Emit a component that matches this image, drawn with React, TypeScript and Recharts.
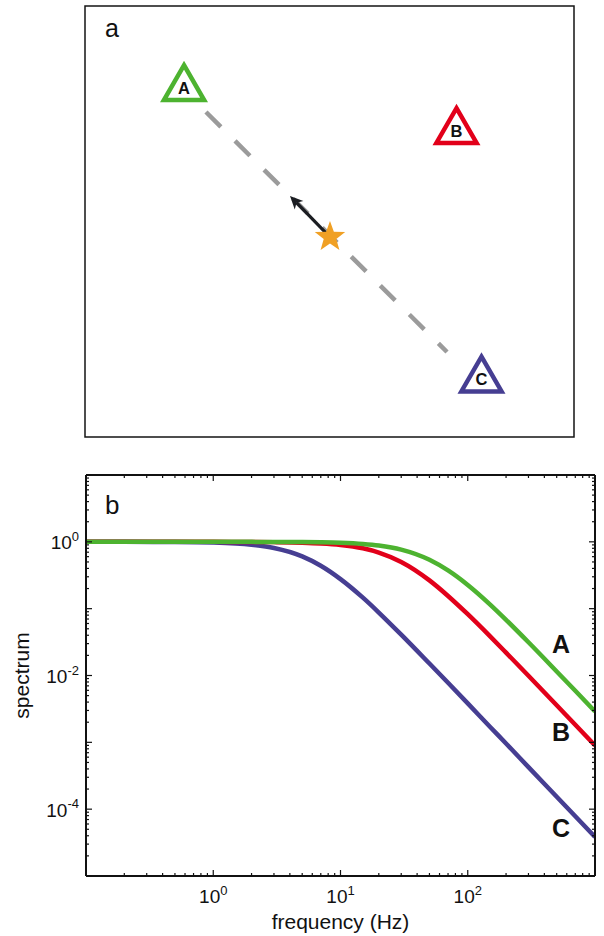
import React from 'react';
import {
  ScatterChart,
  Scatter,
  LineChart,
  Line,
  XAxis,
  YAxis,
  ReferenceArea,
  ReferenceDot,
} from 'recharts';

// ---------------- panel b : spectra ----------------
const FREQ = [0.1, 0.2, 0.5, 1, 2, 3, 5, 7, 10, 15, 20, 30, 50, 70, 100, 150, 200, 300, 500, 700, 1000];
const SPEC_A = [1, 1, 1, 1, 0.9986, 0.997, 0.9915, 0.9835, 0.967, 0.928, 0.879, 0.764, 0.538, 0.373, 0.226, 0.115, 0.068, 0.0314, 0.0115, 0.0059, 0.0029];
const SPEC_B = [1, 1, 1, 0.999, 0.9956, 0.99, 0.973, 0.948, 0.9, 0.8, 0.692, 0.5, 0.265, 0.155, 0.0826, 0.0385, 0.022, 0.0099, 0.00359, 0.00183, 0.0009];
const SPEC_C = [1, 0.999, 0.9935, 0.975, 0.906, 0.81, 0.606, 0.439, 0.277, 0.146, 0.0876, 0.0409, 0.0151, 0.00778, 0.00383, 0.0017, 0.00096, 0.000426, 0.0001536, 0.0000784, 0.0000384];

const X_DECADES = [0.1, 1, 10, 100, 1000];
const X_LABELED = [1, 10, 100];
const X_LABEL_EXP = ['0', '1', '2'];
const Y_DECADES = [0.00001, 0.0001, 0.001, 0.01, 0.1, 1, 10];
const Y_LABELED = [1, 0.01, 0.0001];
const Y_LABEL_EXP = ['0', '-2', '-4'];
const MINOR_MULTS = [2, 3, 4, 5, 6, 7, 8, 9];

const CURVE_NAMES = ['A', 'B', 'C'];
const CURVE_LABEL_F = [540, 540, 540];
const CURVE_LABEL_S = [0.0296, 0.00138, 0.0000522];

// ---------------- panel a : map ----------------
const SITE_NAMES = ['A', 'B', 'C'];
const SITE_X = [20.25, 75.97, 81.08];
const SITE_Y = [82.48, 72.51, 14.85];
const PATH_X = [24.74, 74.03];
const PATH_Y = [75.41, 19.72];
const SOURCE_X = [50.1];
const SOURCE_Y = [46.4];
const MOTION_X = [50.1, 41.92];
const MOTION_Y = [46.4, 55.92];

// ---------------- styles ----------------
const FONT = '"Liberation Sans", Arial, Helvetica, sans-serif';
const COLORS: Record<string, string> = { A: '#4db330', B: '#e2001a', C: '#463e92' };
const AX = '#111';
const STAR = '#f0a024';

// ---------------- derived tables ----------------
const spectrumData = FREQ.map((f, i) => ({ f, A: SPEC_A[i], B: SPEC_B[i], C: SPEC_C[i] }));
const X_TICKS = [
  ...X_DECADES,
  ...X_DECADES.slice(0, -1).flatMap((d) => MINOR_MULTS.map((m) => m * d)),
].sort((a, b) => a - b);
const Y_TICKS = [
  ...Y_DECADES,
  ...Y_DECADES.slice(0, -1).flatMap((d) => MINOR_MULTS.map((m) => m * d)),
].sort((a, b) => a - b);
const X_MAJOR = new Set(X_DECADES);
const Y_MAJOR = new Set(Y_DECADES);

const siteData = SITE_NAMES.map((name, i) => ({ x: SITE_X[i], y: SITE_Y[i], name }));
const pathData = PATH_X.map((x, i) => ({ x, y: PATH_Y[i] }));
const sourceData = SOURCE_X.map((x, i) => ({ x, y: SOURCE_Y[i] }));
const motionData = MOTION_X.map((x, i) => ({ x, y: MOTION_Y[i] }));

// ---------------- ticks ----------------
const Sup = ({ base, exp, supSize, dy }: any) => (
  <>
    <tspan>{base}</tspan>
    <tspan dy={dy} fontSize={supSize}>{exp}</tspan>
  </>
);

const BottomTick = (p: any) => {
  const { x, y, payload } = p;
  const v = payload.value;
  const len = X_MAJOR.has(v) ? 6 : 3;
  const li = X_LABELED.indexOf(v);
  return (
    <g>
      <line x1={x} y1={y} x2={x} y2={y - len} stroke={AX} strokeWidth={1.2} />
      {li >= 0 && (
        <text x={x} y={y + 27} textAnchor="middle" fontSize={19} fill="#111" fontFamily={FONT}>
          <Sup base="10" exp={X_LABEL_EXP[li]} supSize={13} dy={-8} />
        </text>
      )}
    </g>
  );
};

const TopTick = (p: any) => {
  const { x, y, payload } = p;
  const len = X_MAJOR.has(payload.value) ? 6 : 3;
  return <line x1={x} y1={y} x2={x} y2={y + len} stroke={AX} strokeWidth={1.2} />;
};

const LeftTick = (p: any) => {
  const { x, y, payload } = p;
  const v = payload.value;
  const len = Y_MAJOR.has(v) ? 6 : 3;
  const li = Y_LABELED.indexOf(v);
  return (
    <g>
      <line x1={x} y1={y} x2={x + len} y2={y} stroke={AX} strokeWidth={1.2} />
      {li >= 0 && (
        <text x={x - 7} y={y + 7.5} textAnchor="end" fontSize={19} fill="#111" fontFamily={FONT}>
          <Sup base="10" exp={Y_LABEL_EXP[li]} supSize={13} dy={-8.5} />
        </text>
      )}
    </g>
  );
};

const RightTick = (p: any) => {
  const { x, y, payload } = p;
  const len = Y_MAJOR.has(payload.value) ? 6 : 3;
  return <line x1={x} y1={y} x2={x - len} y2={y} stroke={AX} strokeWidth={1.2} />;
};

const XLabel = (p: any) => {
  const vb = p.viewBox || {};
  return (
    <text x={vb.x + vb.width / 2} y={vb.y + 53} textAnchor="middle" fontSize={21} fill="#111" fontFamily={FONT}>
      frequency (Hz)
    </text>
  );
};

const YLabel = (p: any) => {
  const vb = p.viewBox || {};
  const cx = 29;
  const cy = vb.y + vb.height / 2;
  return (
    <text x={cx} y={cy} transform={`rotate(-90, ${cx}, ${cy})`} textAnchor="middle" fontSize={21} fill="#111" fontFamily={FONT}>
      spectrum
    </text>
  );
};

// ---------------- panel a shapes ----------------
const Empty = () => <g />;

const SiteShape = (p: any) => {
  const { cx, cy, payload } = p;
  const c = COLORS[payload.name];
  const d = `M${cx},${cy - 16.3} L${cx + 20.1},${cy + 18.5} L${cx - 20.1},${cy + 18.5} Z`;
  return (
    <g>
      <path d={d} fill="#fff" stroke={c} strokeWidth={4.5} strokeLinejoin="miter" />
      <text x={cx} y={cy + 12.5} textAnchor="middle" fontSize={16.5} fontWeight="bold" fill="#111" fontFamily={FONT}>
        {payload.name}
      </text>
    </g>
  );
};

const StarShape = (p: any) => {
  const { cx, cy } = p;
  const R = 16;
  const r = 6.6;
  const pts: string[] = [];
  for (let k = 0; k < 10; k++) {
    const rad = k % 2 === 0 ? R : r;
    const ang = -Math.PI / 2 + (k * Math.PI) / 5;
    pts.push(`${cx + rad * Math.cos(ang)},${cy + rad * Math.sin(ang)}`);
  }
  return <polygon points={pts.join(' ')} fill={STAR} />;
};

const ArrowLine = (p: any) => {
  const pts = p.points;
  if (!pts || pts.length < 2) return <g />;
  const a = pts[0];
  const b = pts[1];
  const dx = b.x - a.x;
  const dy = b.y - a.y;
  const L = Math.hypot(dx, dy) || 1;
  const ux = dx / L;
  const uy = dy / L;
  const hl = 13;
  const hw = 6;
  const bx = b.x - ux * hl;
  const by = b.y - uy * hl;
  const nx = b.x - ux * hl * 0.72;
  const ny = b.y - uy * hl * 0.72;
  return (
    <g>
      <line x1={a.x} y1={a.y} x2={nx} y2={ny} stroke="#1b1d22" strokeWidth={3.2} />
      <polygon
        points={`${b.x},${b.y} ${bx - uy * hw},${by + ux * hw} ${nx},${ny} ${bx + uy * hw},${by - ux * hw}`}
        fill="#1b1d22"
      />
    </g>
  );
};

const PanelLetter = (letter: string, size: number) => (p: any) => (
  <text x={p.cx} y={p.cy} fontSize={size} fill="#111" fontFamily={FONT}>
    {letter}
  </text>
);

const CurveLetter = (letter: string) => (p: any) => (
  <text x={p.cx} y={p.cy + 8.5} textAnchor="middle" fontSize={25} fontWeight="bold" fill="#111" fontFamily={FONT}>
    {letter}
  </text>
);

export default function App() {
  return (
    <div style={{ position: 'absolute', left: 0, top: 0, width: 604, height: 936, background: '#fff', fontFamily: FONT }}>
      <div style={{ position: 'absolute', left: 0, top: 0 }}>
        <ScatterChart width={604} height={445} margin={{ top: 6, right: 30, bottom: 8, left: 85 }}>
          <XAxis type="number" dataKey="x" domain={[0, 100]} hide allowDataOverflow />
          <YAxis type="number" dataKey="y" domain={[0, 100]} hide allowDataOverflow />
          <ReferenceArea x1={0} x2={100} y1={0} y2={100} fill="none" fillOpacity={0} stroke="#151515" strokeWidth={1.5} />
          <ReferenceDot x={4.09} y={92.81} r={0} shape={PanelLetter('a', 25)} />
          <Scatter
            data={pathData}
            line={{ stroke: '#9b9b9b', strokeWidth: 4.5, strokeDasharray: '21 20' }}
            shape={Empty}
            isAnimationActive={false}
          />
          <Scatter data={motionData} line={ArrowLine} shape={Empty} isAnimationActive={false} />
          <Scatter data={siteData} shape={SiteShape} isAnimationActive={false} />
          <Scatter data={sourceData} shape={StarShape} isAnimationActive={false} />
        </ScatterChart>
      </div>
      <div style={{ position: 'absolute', left: 0, top: 450 }}>
        <LineChart width={604} height={486} data={spectrumData} margin={{ top: 24, right: 8, bottom: 0, left: 0 }}>
          <XAxis
            type="number"
            dataKey="f"
            scale="log"
            domain={[0.1, 1000]}
            allowDataOverflow
            ticks={X_TICKS}
            interval={0}
            tickSize={0}
            tickMargin={0}
            tickLine={false}
            height={60}
            axisLine={{ stroke: AX, strokeWidth: 2 }}
            tick={(p: any) => <BottomTick {...p} />}
            label={XLabel}
          />
          <XAxis
            xAxisId="top"
            orientation="top"
            type="number"
            dataKey="f"
            scale="log"
            domain={[0.1, 1000]}
            allowDataOverflow
            ticks={X_TICKS}
            interval={0}
            tickSize={0}
            tickMargin={0}
            tickLine={false}
            height={1}
            axisLine={{ stroke: AX, strokeWidth: 2 }}
            tick={(p: any) => <TopTick {...p} />}
          />
          <YAxis
            type="number"
            scale="log"
            domain={[0.00001, 10]}
            allowDataOverflow
            ticks={Y_TICKS}
            interval={0}
            tickSize={0}
            tickMargin={0}
            tickLine={false}
            width={86}
            axisLine={{ stroke: AX, strokeWidth: 2 }}
            tick={(p: any) => <LeftTick {...p} />}
            label={YLabel}
          />
          <YAxis
            yAxisId="right"
            orientation="right"
            type="number"
            scale="log"
            domain={[0.00001, 10]}
            allowDataOverflow
            ticks={Y_TICKS}
            interval={0}
            tickSize={0}
            tickMargin={0}
            tickLine={false}
            width={1}
            axisLine={{ stroke: AX, strokeWidth: 2 }}
            tick={(p: any) => <RightTick {...p} />}
          />
          <ReferenceDot x={0.141} y={2.61} r={0} shape={PanelLetter('b', 26)} />
          <Line dataKey="C" type="monotone" stroke={COLORS.C} strokeWidth={4.5} dot={false} isAnimationActive={false} />
          <Line dataKey="B" type="monotone" stroke={COLORS.B} strokeWidth={4.5} dot={false} isAnimationActive={false} />
          <Line dataKey="A" type="monotone" stroke={COLORS.A} strokeWidth={4.5} dot={false} isAnimationActive={false} />
          {CURVE_NAMES.map((n, i) => (
            <ReferenceDot key={n} x={CURVE_LABEL_F[i]} y={CURVE_LABEL_S[i]} r={0} shape={CurveLetter(n)} />
          ))}
        </LineChart>
      </div>
    </div>
  );
}
